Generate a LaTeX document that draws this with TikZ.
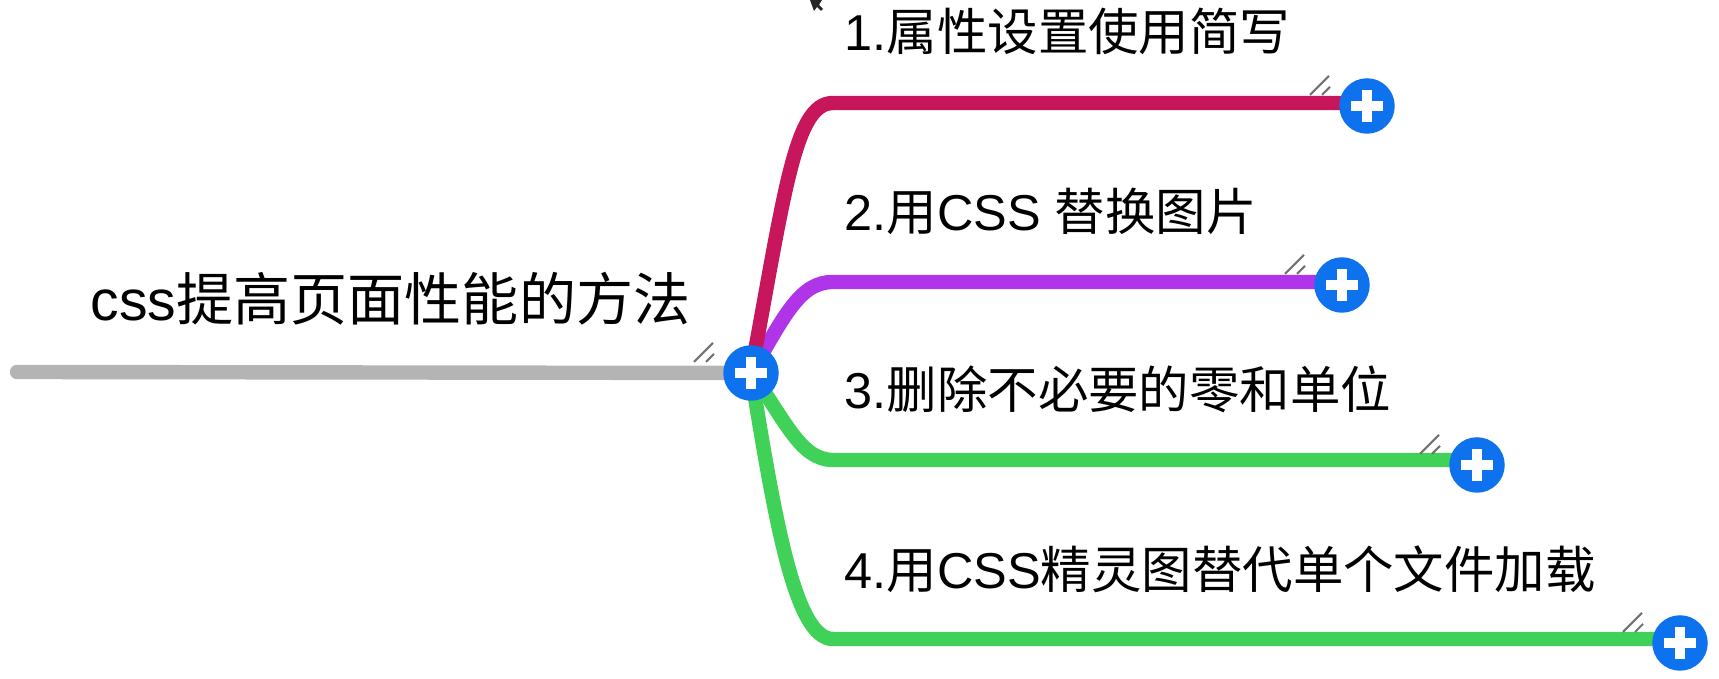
\documentclass[tikz,border=0pt]{standalone}
\usepackage{fontspec}
\setmainfont{Liberation Sans}
\newfontfamily\cjk{Noto Sans CJK SC}
\usetikzlibrary{calc,backgrounds}
\definecolor{btnblue}{HTML}{0E72EE}
\definecolor{rootgray}{HTML}{B4B4B4}
\definecolor{branchred}{HTML}{C8165C}
\definecolor{branchpurple}{HTML}{B035E8}
\definecolor{branchgreen}{HTML}{3FD158}
\tikzset{
  branch/.style={line width=4.1pt,line cap=round},
  hash/.style={line width=0.6pt,black!55},
  expand/.style={circle,fill=btnblue,inner sep=0pt,minimum size=1.5cm*0.37,
    path picture={
      \draw[white,line width=2.9pt] ([xshift=-0.16cm]path picture bounding box.center) -- ([xshift=0.16cm]path picture bounding box.center);
      \draw[white,line width=2.9pt] ([yshift=-0.16cm]path picture bounding box.center) -- ([yshift=0.16cm]path picture bounding box.center);
    }},
  toptext/.style={anchor=west,inner sep=0pt,font=\fontsize{16.25}{18}\selectfont},
  leaf/.style={anchor=west,inner sep=0pt,font=\fontsize{14.35}{17}\selectfont}
}
\begin{document}
\begin{tikzpicture}
  \useasboundingbox (0,0) rectangle (17.19,6.79);
  % buttons
  \node[expand] (root) at (7.51,3.06) {};
  \node[expand] (one) at (13.67,5.73) {};
  \node[expand] (two) at (13.42,3.94) {};
  \node[expand] (three) at (14.77,2.14) {};
  \node[expand] (four) at (16.80,0.36) {};
  \coordinate (start) at (0.17,3.07);
  \coordinate (c1) at (8.33,5.76);
  \coordinate (c2) at (8.33,3.97);
  \coordinate (c3) at (8.33,2.19);
  \coordinate (c4) at (8.33,0.40);
  % texts
  \node[toptext] (title) at (0.90,3.80) {css{\cjk 提高页面性能的方法}};
  \node[leaf] (t1) at (8.44,6.48) {1.{\cjk 属性设置使用简写}};
  \node[leaf] (t2) at (8.44,4.68) {2.{\cjk 用}CSS {\cjk 替换图片}};
  \node[leaf] (t3) at (8.44,2.90) {3.{\cjk 删除不必要的零和单位}};
  \node[leaf] (t4) at (8.44,1.10) {4.{\cjk 用}CSS{\cjk 精灵图替代单个文件加载}};
  % lines
  \begin{scope}[on background layer]
    \draw[branch,rootgray] (start) -- (root);
    \draw[branch,branchgreen] (root.center) .. controls (7.75,1.59) and (7.95,0.40) .. (c4) -- (c4 -| four);
    \draw[branch,branchgreen] (root.center) .. controls (7.85,2.6) and (8.0,2.19) .. (c3) -- (c3 -| three);
    \draw[branch,branchpurple] (root.center) .. controls (7.85,3.64) and (8.0,3.97) .. (c2) -- (c2 -| two);
    \draw[branch,branchred] (root.center) .. controls (7.85,4.89) and (7.95,5.76) .. (c1) -- (c1 -| one);
  \end{scope}
  \foreach \n in {root,one,two,three,four} {
    \draw[hash] ([shift={(-.57,.11)}]\n.center) -- ++(.19,.19);
    \draw[hash] ([shift={(-.45,.11)}]\n.center) -- ++(.08,.08);
  }
  % pointer
  \fill[black!85] (8.10,6.79) -- (8.14,6.68) -- (8.17,6.72) -- (8.21,6.68) -- (8.23,6.70) -- (8.19,6.74) -- (8.22,6.79) -- cycle;
\end{tikzpicture}
\end{document}
